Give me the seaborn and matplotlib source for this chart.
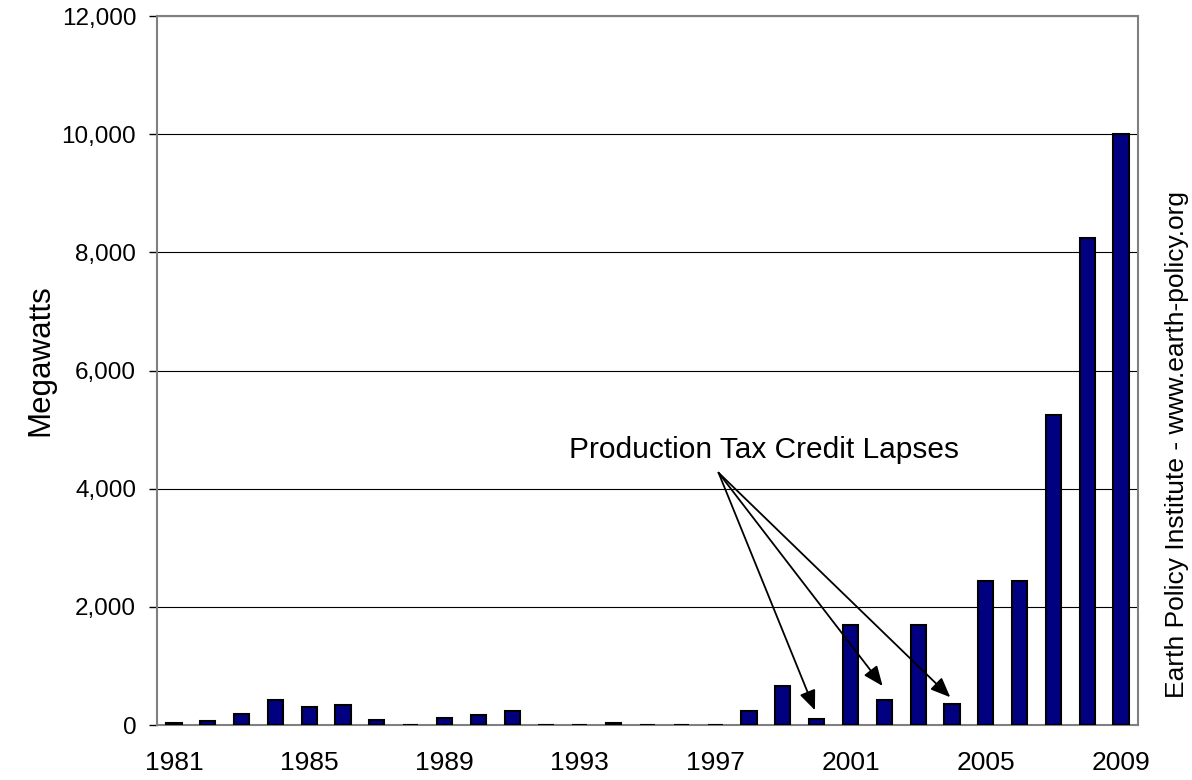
import seaborn as sns
import matplotlib.pyplot as plt
import pandas as pd
import numpy as np

years = list(range(1981, 2010))
megawatts = [30, 75, 190, 420, 310, 340, 90, 0, 120, 170, 240, 0, 0, 35,
             0, 0, 0, 240, 660, 100, 1700, 420, 1690, 360, 2430, 2430,
             5250, 8250, 10010]
lapse_years = [2000, 2002, 2004]
lapse_tips = [250, 660, 470]

df = pd.DataFrame({"Year": [str(y) for y in years], "MW": megawatts})

sns.set_style("white")
plt.rcParams['font.family'] = ['Liberation Sans', 'DejaVu Sans']
plt.rcParams.update({"text.color": "black", "axes.labelcolor": "black",
                     "xtick.color": "black", "ytick.color": "black"})

DPI = 100
fig = plt.figure(figsize=(1192 / DPI, 780 / DPI), dpi=DPI)
ax = fig.add_axes([157 / 1192, 55 / 780, (1138 - 157) / 1192, (725 - 16) / 780])

sns.barplot(data=df, x="Year", y="MW", color="#000080", saturation=1,
            width=0.45, edgecolor="black", linewidth=1.5, ax=ax, zorder=3)

ax.set_xlim(-0.5, len(years) - 0.5)
ax.set_ylim(0, 12000)
ax.set_yticks(np.arange(0, 12001, 2000))
ax.set_yticklabels([f"{v:,}" for v in range(0, 12001, 2000)], fontsize=17.5)
ax.yaxis.grid(True, color="black", linewidth=0.8, zorder=0)
ax.set_axisbelow(True)

label_idx = [i for i, y in enumerate(years) if (y - 1981) % 4 == 0]
ax.set_xticks(label_idx)
ax.set_xticklabels([str(years[i]) for i in label_idx], fontsize=19)
ax.set_xticks(np.arange(-0.5, len(years), 1), minor=True)
ax.tick_params(axis="x", which="major", length=0, pad=19)
ax.tick_params(axis="x", which="minor", length=6, width=1, color="black")
ax.tick_params(axis="y", length=6, width=1, color="black", left=True, pad=9)

for s in ax.spines.values():
    s.set_color("#808080")
    s.set_linewidth(1.5)

ax.set_xlabel("")
ax.set_ylabel("Megawatts", fontsize=22.5)
ax.yaxis.set_label_coords(-0.104, 0.515)

start = (16.1, 4270)
for yr, tip in zip(lapse_years, lapse_tips):
    i = years.index(yr) - 0.05
    ax.annotate("", xy=(i, tip), xytext=start,
                arrowprops=dict(arrowstyle="-|>,head_length=0.6,head_width=0.25",
                                color="black", lw=1.3,
                                mutation_scale=20, shrinkA=0, shrinkB=0),
                zorder=5)
ax.text(17.45, 4650, "Production Tax Credit Lapses", fontsize=21.5,
        ha="center", va="center", zorder=6)

fig.text(1177 / 1192, 336 / 780, "Earth Policy Institute - www.earth-policy.org",
         rotation=90, fontsize=19, ha="center", va="center")

plt.savefig("out.png", dpi=DPI)
plt.close()
